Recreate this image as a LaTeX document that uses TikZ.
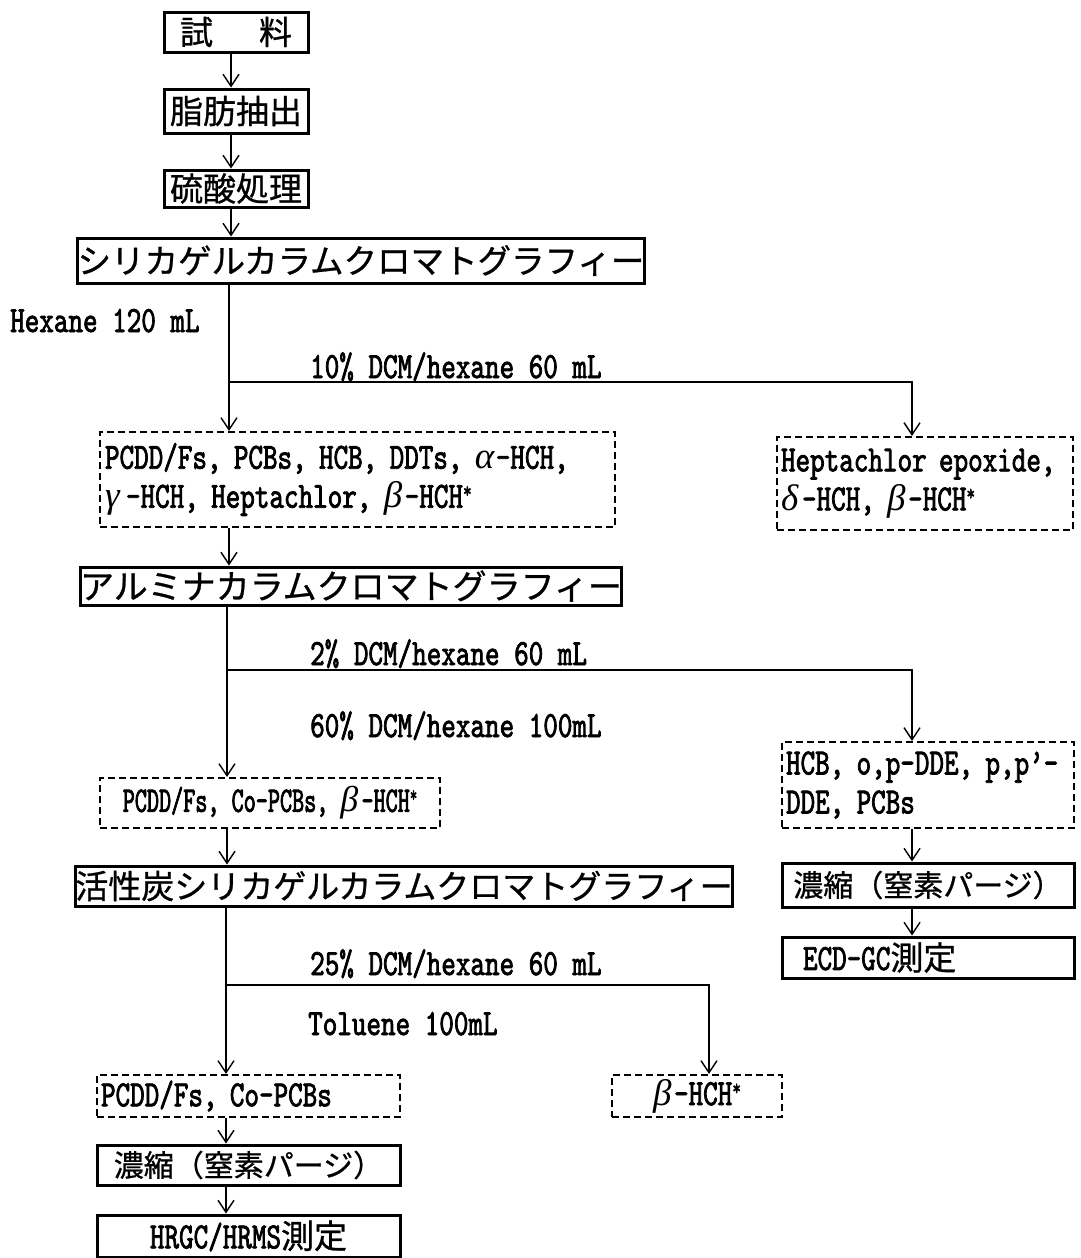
\documentclass[tikz,border=0pt]{standalone}
\usepackage{fontspec}
\setmainfont{lmmono10-regular.otf}[FakeStretch=0.75,FakeBold=2]
\newfontfamily\latnarrow{lmmono10-regular.otf}[FakeStretch=0.64,FakeBold=2]
\newfontfamily\jpfont{Noto Sans CJK JP}[FakeBold=0.8]
\newfontfamily\grkfont{Liberation Serif}
\usetikzlibrary{arrows.meta}
\newcommand\latsz{\fontsize{37}{39}\selectfont}
\newcommand\jpsz{\jpfont\fontsize{33}{36}\selectfont}
\newcommand\jpszs{\jpfont\fontsize{30}{34}\selectfont}
\newcommand\gk[1]{\makebox[21pt][l]{\grkfont\itshape #1}}
\newcommand\sst{\raisebox{10pt}{\fontsize{22}{22}\selectfont *}}
\begin{document}
\begin{tikzpicture}[x=1pt,y=-1pt,
  sbox/.style={draw,line width=3pt,inner sep=0pt,font=\jpsz},
  dbox/.style={draw,line width=2.2pt,dash pattern=on 7pt off 4pt,inner sep=0pt,font=\latsz},
  arr/.style={line width=1.4pt,-{Straight Barb[length=12pt,width=16pt]}},
  lbl/.style={anchor=base west,inner sep=0pt,font=\latsz}]
\fill[white] (0,0) rectangle (1080,1258);
\useasboundingbox (0,0) rectangle (1080,1258);
% main column boxes
\node[sbox,minimum width=144pt,minimum height=40pt] (s1) at (236,32) {試\hspace{46pt}料};
\node[sbox,minimum width=144pt,minimum height=44pt] (s2) at (236,111) {脂肪抽出};
\node[sbox,minimum width=144pt,minimum height=37pt] (s3) at (236,188.5) {硫酸処理};
\node[sbox,minimum width=520pt,minimum height=45pt,font=\jpfont\fontsize{33.5}{36}\selectfont] (s4) at (361,260.5) {シリカゲルカラムクロマトグラフィー};
\node[dbox,minimum width=515pt,minimum height=95pt,text width=505pt,align=left] (d1) at (357.5,479.5) {PCDD/Fs, PCBs, HCB, DDTs, \gk{α}-HCH,\\\gk{γ}-HCH, Heptachlor, \gk{β}-HCH\sst};
\node[dbox,minimum width=296pt,minimum height=93pt,text width=288pt,align=left] (d2) at (925,483.5) {Heptachlor epoxide,\\\gk{δ}-HCH, \gk{β}-HCH\sst};
\node[sbox,minimum width=502pt,minimum height=38pt,font=\jpfont\fontsize{34}{36}\selectfont] (s5) at (351,586) {アルミナカラムクロマトグラフィー};
\node[dbox,minimum width=340pt,minimum height=50pt,font=\latnarrow\fontsize{36}{39}\selectfont] (d3) at (270,803) {PCDD/Fs, Co-PCBs, \gk{β}-HCH\sst};
\node[dbox,minimum width=292pt,minimum height=86pt,text width=284pt,align=left] (d6) at (928,785) {HCB, o,p-DDE, p,p’-\\DDE, PCBs};
\node[sbox,minimum width=292pt,minimum height=44pt,font=\jpszs] (r1) at (928,885) {濃縮（窒素パージ）};
\node[sbox,minimum width=292pt,minimum height=41pt,text width=250pt,align=left] (r2) at (928,957.5) {{\rmfamily\latsz ECD-GC}測定};
\node[sbox,minimum width=608pt,minimum height=40pt] (s6) at (404,886) {活性炭シリカゲルカラムクロマトグラフィー};
\node[dbox,minimum width=303pt,minimum height=42pt,text width=295pt,align=left] (d4) at (248.5,1096) {PCDD/Fs, Co-PCBs};
\node[dbox,minimum width=170pt,minimum height=42pt] (d5) at (697,1096) {\gk{β}-HCH\sst};
\node[sbox,minimum width=303pt,minimum height=40pt,font=\jpszs] (s7) at (248.5,1165) {濃縮（窒素パージ）};
\node[sbox,minimum width=303pt,minimum height=42pt] (s8) at (248.5,1236) {{\rmfamily\latsz HRGC/HRMS}測定};
% labels
\node[lbl] (L0) at (10,332) {Hexane 120 mL};
\node[lbl] (L1) at (310,378) {10\% DCM/hexane 60 mL};
\node[lbl] (L2) at (310,665) {2\% DCM/hexane 60 mL};
\node[lbl] (L3) at (310,737) {60\% DCM/hexane 100mL};
\node[lbl] (L4) at (310,975) {25\% DCM/hexane 60 mL};
\node[lbl] (L5) at (308,1035) {Toluene 100mL};
% connectors
\coordinate (xa) at (231,0);
\coordinate (xb) at (229,0);
\coordinate (xc) at (227,0);
\coordinate (xd) at (226,0);
\coordinate (xr) at (912,0);
\coordinate (b1) at (229,382);
\coordinate (b1r) at (912,382);
\coordinate (b2) at (227,670);
\coordinate (b2r) at (912,670);
\coordinate (b3) at (226,985);
\coordinate (b3r) at (709,985);
\draw[arr] (s1.south -| xa) -- (s2.north -| xa);
\draw[arr] (s2.south -| xa) -- (s3.north -| xa);
\draw[arr] (s3.south -| xa) -- (s4.north -| xa);
\draw[arr] (s4.south -| xb) -- (d1.north -| xb);
\draw[arr] (b1) -- (b1r) -- (d2.north -| b1r);
\draw[arr] (d1.south -| xb) -- (s5.north -| xb);
\draw[arr] (s5.south -| xc) -- (d3.north -| xc);
\draw[arr] (b2) -- (b2r) -- (d6.north -| b2r);
\draw[arr] (d3.south -| xc) -- (s6.north -| xc);
\draw[arr] (d6.south -| xr) -- (r1.north -| xr);
\draw[arr] (r1.south -| xr) -- (r2.north -| xr);
\draw[arr] (s6.south -| xd) -- (d4.north -| xd);
\draw[arr] (b3) -- (b3r) -- (d5.north -| b3r);
\draw[arr] (d4.south -| xd) -- (s7.north -| xd);
\draw[arr] (s7.south -| xd) -- (s8.north -| xd);
\end{tikzpicture}
\end{document}
